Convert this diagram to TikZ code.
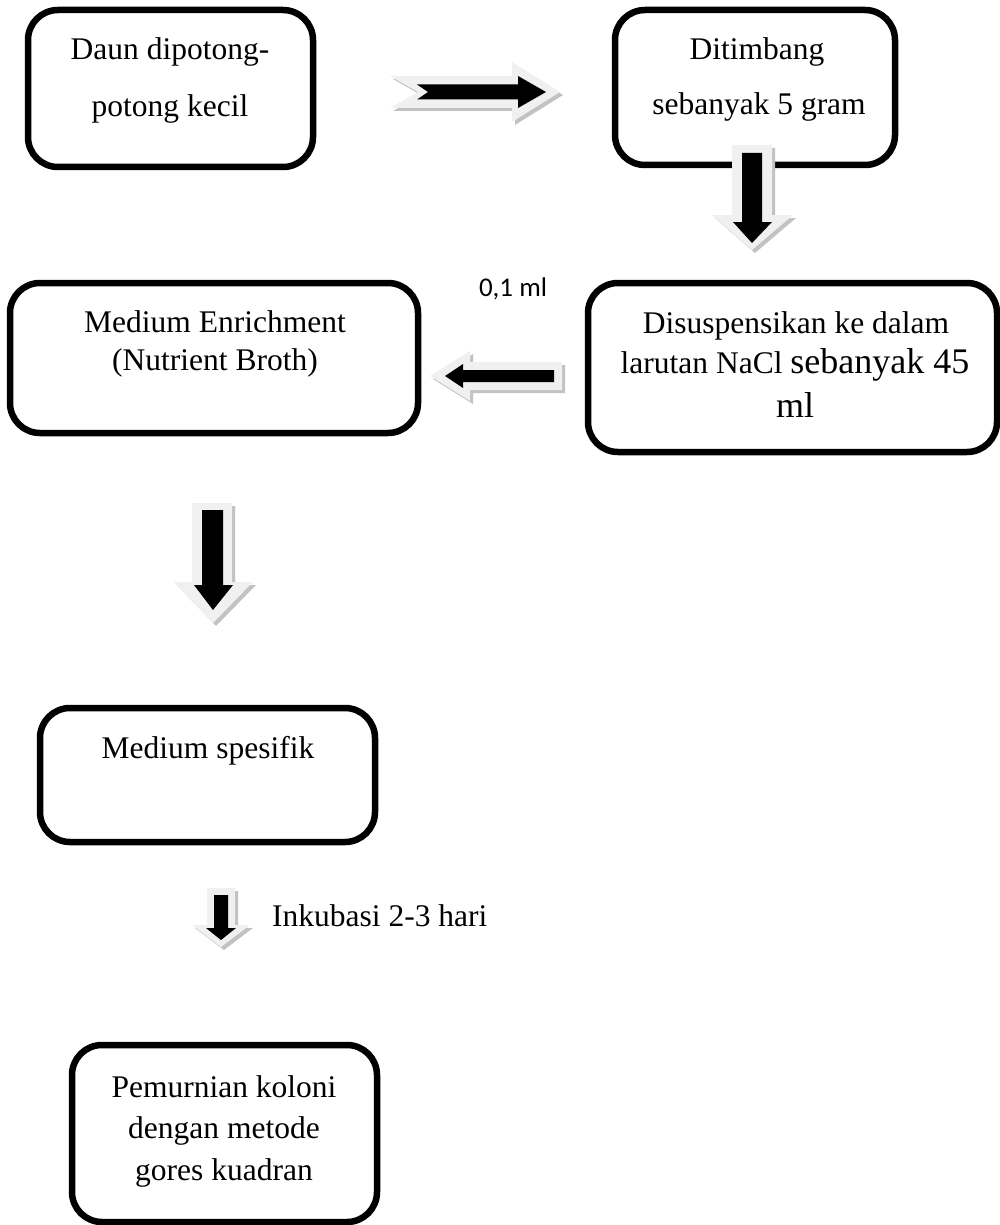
\documentclass[tikz,border=0pt]{standalone}
\usepackage{fontspec}
\setmainfont{Liberation Serif}
\newfontfamily\calibrifont{Carlito}
\begin{document}
\begin{tikzpicture}[x=1pt,y=-1pt,
  box/.style={draw=black,line width=6.5pt,rounded corners=30pt,fill=white,
    inner sep=0pt,outer sep=0pt,rectangle},
  txt/.style={font=\fontsize{31.5}{36}\selectfont,inner sep=0pt,anchor=base},
  big/.style={font=\fontsize{36}{40}\selectfont},
  arrshadow/.style={fill=black!24,draw=none},
  arrouter/.style={fill=black!6,draw=none},
  arrinner/.style={fill=black,draw=none}]
\useasboundingbox (0,0) rectangle (999,1225);

% boxes
\node[box,minimum width=285pt,minimum height=157pt] (b1) at (170.5,88.5) {};
\node[box,minimum width=280pt,minimum height=155pt] (b2) at (755,87.5) {};
\node[box,minimum width=408pt,minimum height=150pt] (b3) at (214,358) {};
\node[box,minimum width=409pt,minimum height=169pt] (b4) at (792.5,367.5) {};
\node[box,minimum width=335pt,minimum height=134pt] (b5) at (207.5,775) {};
\node[box,minimum width=305pt,minimum height=177pt] (b6) at (224.5,1133.5) {};

% texts
\node[txt] (t1a) at (170,60) {Daun dipotong-};
\node[txt] (t1b) at (170,117) {potong kecil};
\node[txt] (t2a) at (757,60) {Ditimbang};
\node[txt] (t2b) at (759,115) {sebanyak 5 gram};
\node[txt] (t3a) at (215,332) {Medium Enrichment};
\node[txt] (t3b) at (215,370) {(Nutrient Broth)};
\node[txt] (t4a) at (796,333) {Disuspensikan ke dalam};
\node[txt] (t4b) at (795,373) {larutan NaCl {\fontsize{36}{40}\selectfont sebanyak 45}};
\node[txt,big] (t4c) at (795,417) {ml};
\node[txt] (t5) at (208,758) {Medium spesifik};
\node[txt] (t6a) at (224,1097) {Pemurnian koloni};
\node[txt] (t6b) at (224,1138) {dengan metode};
\node[txt] (t6c) at (224,1180) {gores kuadran};
\node[inner sep=0pt,anchor=base,font=\calibrifont\fontsize{27}{30}\selectfont] (lbl1) at (513,296) {0,1 ml};
\node[txt,anchor=base west] (lbl2) at (272,926) {Inkubasi 2-3 hari};

% arrow 1: right (b1 -> b2)
\fill[arrshadow,shift={(3,3)}] (390,76) -- (512,76) -- (512,62) -- (560,92) -- (512,122) -- (512,108) -- (390,108) -- (418,92) -- cycle;
\fill[arrouter] (390,76) -- (512,76) -- (512,62) -- (560,92) -- (512,122) -- (512,108) -- (390,108) -- (418,92) -- cycle;
\fill[arrinner] (417,84.5) -- (518,84.5) -- (518,76) -- (546,92) -- (518,108) -- (518,99.5) -- (417,99.5) -- (428,92) -- cycle;

% arrow 2: down (b2 -> b4)
\fill[arrshadow,shift={(3,3)}] (732,145) -- (772,145) -- (772,215) -- (793,215) -- (752,250) -- (712,215) -- (732,215) -- cycle;
\fill[arrouter] (732,145) -- (772,145) -- (772,215) -- (793,215) -- (752,250) -- (712,215) -- (732,215) -- cycle;
\fill[arrinner] (742,153) -- (762,153) -- (762,222) -- (772,222) -- (752,243) -- (733,222) -- (742,222) -- cycle;

% arrow 3: left (b4 -> b3)
\fill[arrshadow,shift={(3,3)}] (562,362) -- (470,362) -- (470,351) -- (430,376) -- (470,401) -- (470,390) -- (562,390) -- cycle;
\fill[arrouter] (562,362) -- (470,362) -- (470,351) -- (430,376) -- (470,401) -- (470,390) -- (562,390) -- cycle;
\fill[arrinner] (554,370) -- (463,370) -- (463,364) -- (445,376) -- (463,388) -- (463,382) -- (554,382) -- cycle;

% arrow 4: down (b3 -> b5)
\fill[arrshadow,shift={(3,3)}] (192,503) -- (232,503) -- (232,582) -- (253,582) -- (213,623) -- (174,582) -- (192,582) -- cycle;
\fill[arrouter] (192,503) -- (232,503) -- (232,582) -- (253,582) -- (213,623) -- (174,582) -- (192,582) -- cycle;
\fill[arrinner] (202,510) -- (223,510) -- (223,585) -- (233,585) -- (213,610) -- (194,585) -- (202,585) -- cycle;

% arrow 5: down (b5 -> b6)
\fill[arrshadow,shift={(3,3)}] (207,888) -- (235,888) -- (235,925) -- (250,925) -- (221,947) -- (192,925) -- (207,925) -- cycle;
\fill[arrouter] (207,888) -- (235,888) -- (235,925) -- (250,925) -- (221,947) -- (192,925) -- (207,925) -- cycle;
\fill[arrinner] (214,895) -- (228,895) -- (228,928) -- (236,928) -- (221,940) -- (206,928) -- (214,928) -- cycle;
\end{tikzpicture}
\end{document}
